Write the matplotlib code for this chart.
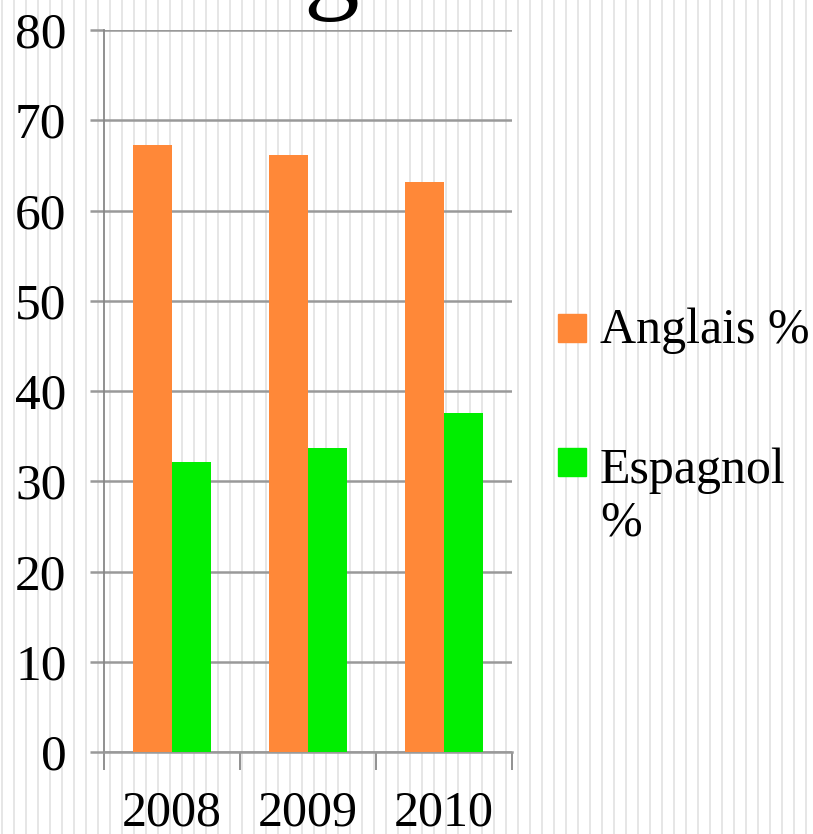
import numpy as np
import matplotlib
matplotlib.use("Agg")
import matplotlib.pyplot as plt
from matplotlib.lines import Line2D
from matplotlib.patches import Rectangle

years = ["2008", "2009", "2010"]
anglais = [67.3, 66.1, 63.2]
espagnol = [32.1, 33.7, 37.6]
series_labels = ["Anglais %", "Espagnol\n%"]
series_colors = ['#FF8838', '#00EE00']
y_ticks = [0, 10, 20, 30, 40, 50, 60, 70, 80]

plt.rcParams['font.family'] = ['Liberation Serif', 'DejaVu Serif']

W, H = 813, 834
fig = plt.figure(figsize=(W / 100, H / 100), dpi=100)

# striped background
for px in np.arange(2, W, 12):
    fig.add_artist(Line2D([px / W, px / W], [0, 1], transform=fig.transFigure,
                          color='#e4e4e4', lw=1.3, zorder=-10))

ax = fig.add_axes([104 / W, 1 - 752 / H, 408 / W, 722 / H])
ax.patch.set_alpha(0)

x = np.arange(len(years))
w = 0.285
ax.bar(x - w / 2, anglais, w, color=series_colors[0], zorder=3)
ax.bar(x + w / 2, espagnol, w, color=series_colors[1], zorder=3)

ax.set_xlim(-0.5, 2.5)
ax.set_ylim(0, 80)
ax.set_yticks(y_ticks)
ax.yaxis.grid(True, color='#999999', lw=1.8, zorder=1)
ax.set_axisbelow(True)

for s in ['top', 'right']:
    ax.spines[s].set_visible(False)
ax.spines['left'].set_color('#888888')
ax.spines['left'].set_linewidth(1.3)
ax.spines['bottom'].set_color('#999999')
ax.spines['bottom'].set_linewidth(1.8)

ax.tick_params(axis='y', length=10, width=1.8, color='#999999', labelsize=37, pad=17)
ax.set_xticks([-0.5, 0.5, 1.5, 2.5])
ax.set_xticklabels([])
ax.tick_params(axis='x', which='major', length=13, width=1.3, color='#888888')
ax.set_xticks(x, minor=True)
ax.set_xticklabels(years, minor=True, fontsize=36)
ax.tick_params(axis='x', which='minor', length=0, pad=27)

# legend drawn by hand so the marker sits on the first text line
legend_tops = [314, 448]
line_h = 58
for lab, col, top in zip(series_labels, series_colors, legend_tops):
    fig.add_artist(Rectangle((558 / W, 1 - (top + 28) / H), 28 / W, 28 / H,
                             transform=fig.transFigure, color=col))
    nlines = lab.count("\n") + 1
    base = top + 29 + (nlines - 1) * line_h
    fig.text(600 / W, 1 - base / H, lab, fontsize=36, ha='left',
             va='baseline', linespacing=1.15)

# partially visible title
fig.text(331 / W, 1 + 1 / H, "g", fontsize=80, ha='center', va='baseline')

fig.savefig("out.png", dpi=100)
